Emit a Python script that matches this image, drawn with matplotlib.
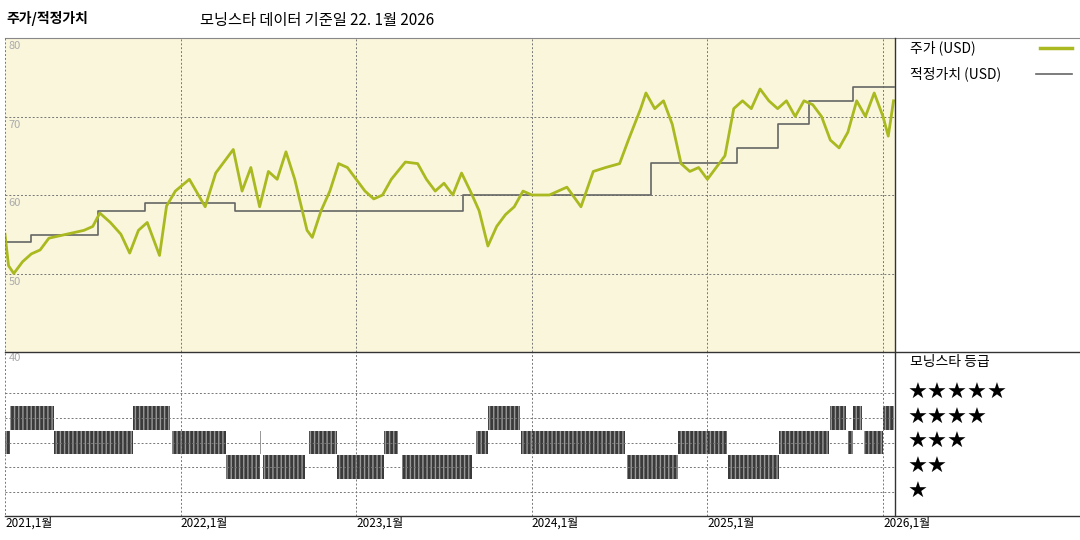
import matplotlib
matplotlib.use("Agg")
import matplotlib.pyplot as plt

plt.rcParams['font.family'] = ['Noto Sans CJK KR', 'DejaVu Sans']

# price (USD)
price_t = [2021.00, 2021.02, 2021.05, 2021.10, 2021.15, 2021.20, 2021.25, 2021.35, 2021.45,
           2021.50, 2021.54, 2021.60, 2021.66, 2021.71, 2021.76, 2021.81, 2021.88, 2021.92,
           2021.97, 2022.05, 2022.14, 2022.20, 2022.30, 2022.35, 2022.40, 2022.45, 2022.50,
           2022.55, 2022.60, 2022.65, 2022.72, 2022.75, 2022.80, 2022.85, 2022.90, 2022.95,
           2023.00, 2023.05, 2023.10, 2023.15, 2023.20, 2023.28, 2023.35, 2023.40, 2023.45,
           2023.50, 2023.55, 2023.60, 2023.65, 2023.70, 2023.75, 2023.80, 2023.85, 2023.90,
           2023.95, 2024.00, 2024.10, 2024.20, 2024.28, 2024.35, 2024.42, 2024.50, 2024.55,
           2024.62, 2024.65, 2024.70, 2024.75, 2024.80, 2024.85, 2024.90, 2024.95, 2025.00,
           2025.05, 2025.10, 2025.15, 2025.20, 2025.25, 2025.30, 2025.35, 2025.40, 2025.45,
           2025.50, 2025.55, 2025.60, 2025.65, 2025.70, 2025.75, 2025.80, 2025.85, 2025.90,
           2025.95, 2026.00, 2026.03, 2026.06]
price_v = [55.0, 51.0, 50.0, 51.5, 52.5, 53.0, 54.5, 55.0, 55.5,
           56.0, 57.7, 56.5, 55.0, 52.6, 55.5, 56.5, 52.3, 58.6,
           60.5, 62.0, 58.5, 62.8, 65.8, 60.5, 63.5, 58.5, 63.0,
           62.0, 65.5, 62.0, 55.5, 54.6, 58.0, 60.5, 64.0, 63.5,
           62.0, 60.5, 59.5, 60.0, 62.0, 64.2, 64.0, 62.0, 60.5,
           61.5, 60.0, 62.8, 60.5, 58.0, 53.5, 56.0, 57.5, 58.5,
           60.5, 60.0, 60.0, 61.0, 58.5, 63.0, 63.5, 64.0, 67.0,
           71.0, 73.0, 71.0, 72.0, 69.0, 64.0, 63.0, 63.5, 62.0,
           63.5, 65.0, 71.0, 72.0, 71.0, 73.5, 72.0, 71.0, 72.0,
           70.0, 72.0, 71.5, 70.0, 67.0, 66.0, 68.0, 72.0, 70.0,
           73.0, 70.0, 67.5, 72.0]

# fair value steps (start year, value)
fv_t = [2021.00, 2021.15, 2021.53, 2021.80, 2022.31, 2023.61, 2024.68, 2025.17, 2025.40, 2025.58, 2025.83, 2026.06]
fv_v = [54.0, 54.9, 58.0, 59.0, 58.0, 60.0, 64.1, 66.0, 69.0, 72.0, 73.8, 73.8]

# Morningstar rating periods in years: (start, end)
rating4 = [(2021.03, 2021.28), (2021.73, 2021.94), (2023.75, 2023.93), (2025.70, 2025.79),
           (2025.83, 2025.88), (2026.00, 2026.06)]
rating3 = [(2021.00, 2021.03), (2021.28, 2021.73), (2021.95, 2022.26), (2022.45, 2022.46),
           (2022.73, 2022.89), (2023.16, 2023.24), (2023.68, 2023.75), (2023.94, 2024.53),
           (2024.83, 2025.11), (2025.41, 2025.69), (2025.80, 2025.83), (2025.89, 2026.00)]
rating2 = [(2022.26, 2022.45), (2022.47, 2022.71), (2022.89, 2023.16), (2023.26, 2023.66),
           (2024.54, 2024.83), (2025.12, 2025.41)]

years = [2021, 2022, 2023, 2024, 2025, 2026]
year_labels = ["2021,1월", "2022,1월", "2023,1월", "2024,1월", "2025,1월", "2026,1월"]

W, H = 1080, 540
fig = plt.figure(figsize=(10.8, 5.4), dpi=100)
x0, x1 = 5 / W, 895 / W
xlim = (2021.0, 2021.0 + (895 - 5) / 175.6)

green = "#a9b91f"
grid_kw = dict(color="#777777", linestyle=(0, (2, 2)), linewidth=0.7)

ax = fig.add_axes([x0, 1 - 352 / H, x1 - x0, (352 - 38) / H])
ax.set_facecolor("#faf6dc")
ax.set_xlim(*xlim)
ax.set_ylim(40, 80)
for y in [70, 60, 50]:
    ax.axhline(y, **grid_kw)
for yr in years[1:]:
    ax.axvline(yr, **grid_kw)
ax.step(fv_t, fv_v, where="post", color="#666666", lw=1.2)
ax.plot(price_t, price_v, color=green, lw=2.0)
for y in [80, 70, 60, 50]:
    ax.text(2021.02, y - 0.4, str(y), color="#aaaaaa", fontsize=8, va="top")
ax.set_xticks([]); ax.set_yticks([])
for s in ax.spines.values():
    s.set_visible(False)

bx = fig.add_axes([x0, 1 - 516 / H, x1 - x0, (516 - 352) / H])
bx.set_xlim(*xlim)
bx.set_ylim(0.03, 6.66)
for yr in years[1:]:
    bx.axvline(yr, **grid_kw)
rows = [(5, []), (4, rating4), (3, rating3), (2, rating2), (1, [])]
for lvl, spans in rows:
    bx.axhline(lvl, **grid_kw)
    if spans:
        bx.broken_barh([(a, b - a) for a, b in spans], (lvl - 0.48, 0.96),
                       facecolor="#3a3a3a", edgecolor="#999999", hatch="||||", lw=0)
bx.text(2021.02, 6.6, "40", color="#aaaaaa", fontsize=8, va="top")
bx.set_xticks([]); bx.set_yticks([])
for s in bx.spines.values():
    s.set_visible(False)

# frame lines and annotations in pixel coords
ov = fig.add_axes([0, 0, 1, 1], facecolor="none")
ov.set_xlim(0, W); ov.set_ylim(H, 0); ov.axis("off")
ov.plot([5, W], [38, 38], color="#888888", lw=0.8)
ov.plot([5, W], [352, 352], color="#333333", lw=1.0)
ov.plot([5, W], [516, 516], color="#333333", lw=1.0)
ov.plot([895, 895], [38, 516], color="#333333", lw=1.0)
ov.plot([5, 5], [38, 516], **grid_kw)

ov.text(6, 18, "주가/적정가치", fontsize=10, fontweight="bold", va="center")
ov.text(200, 20, "모닝스타 데이터 기준일 22. 1월 2026", fontsize=11, va="center")
ov.text(910, 48, "주가 (USD)", fontsize=10, va="center")
ov.plot([1040, 1072], [48, 48], color=green, lw=2.5)
ov.text(910, 74, "적정가치 (USD)", fontsize=10, va="center")
ov.plot([1036, 1072], [74, 74], color="#666666", lw=1.2)
ov.text(910, 362, "모닝스타 등급", fontsize=10, va="center")
for i, n in enumerate([5, 4, 3, 2, 1]):
    ov.text(908, 393 + i * 24.7, "★" * n, fontsize=16, va="center", family="DejaVu Sans")
for yr, lab in zip(years, year_labels):
    px = 5 + (yr - 2021) * 175.6
    ov.text(px, 523, lab, fontsize=8.5, va="center", ha="left")

fig.savefig("out.png", dpi=100)
